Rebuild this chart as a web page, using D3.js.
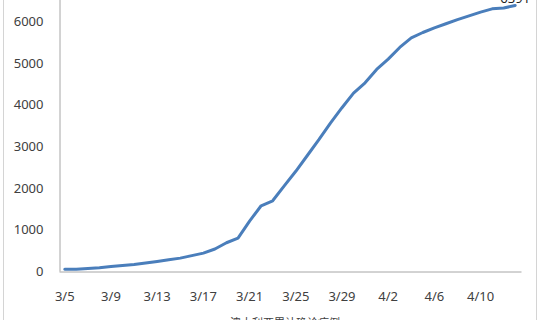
<!DOCTYPE html>
<html>
<head>
<meta charset="utf-8">
<script src="https://cdn.jsdelivr.net/npm/d3@7"></script>
<style>
  body { margin: 0; background: #fff; }
  svg { display: block; }
</style>
</head>
<body>
<div id="chart"></div>
<script>
// 每日累计确诊 3/5 - 4/13
var dates = ["3/5","3/6","3/7","3/8","3/9","3/10","3/11","3/12","3/13","3/14",
  "3/15","3/16","3/17","3/18","3/19","3/20","3/21","3/22","3/23","3/24",
  "3/25","3/26","3/27","3/28","3/29","3/30","3/31","4/1","4/2","4/3",
  "4/4","4/5","4/6","4/7","4/8","4/9","4/10","4/11","4/12","4/13"]
var cases = [40, 45, 60, 80, 110, 135, 155, 190, 230, 270,
  310, 370, 430, 530, 680, 790, 1200, 1570, 1690, 2050,
  2400, 2780, 3160, 3560, 3930, 4280, 4530, 4850, 5100, 5380,
  5610, 5740, 5850, 5950, 6050, 6140, 6230, 6310, 6330, 6391]
var yTicks = [0, 1000, 2000, 3000, 4000, 5000, 6000]
var legendText = "澳大利亚累计确诊病例"

var W = 540, H = 320
var svg = d3.select("#chart").append("svg")
  .attr("width", W)
  .attr("height", H)

// 外框
svg.append("rect")
  .attr("x", 3.5).attr("y", -5)
  .attr("width", 533).attr("height", H + 10)
  .attr("fill", "none")
  .attr("stroke", "#d4d4d4")
  .attr("stroke-width", 1)

var x = d3.scaleBand().domain(dates).range([59, 521])
var y = d3.scaleLinear().domain([0, 7000]).range([271, 271 - 7000 * 0.04155])

var font = "'Noto Sans', 'DejaVu Sans', sans-serif"

// y轴
var gy = svg.append("g")
  .attr("transform", "translate(59.5,0)")
  .call(d3.axisLeft(y).tickValues(yTicks).tickSize(0).tickPadding(16).tickFormat(d3.format("d")))
gy.select(".domain").attr("stroke", "#a6a6a6")
gy.selectAll("text")
  .style("font-family", font)
  .style("font-size", "13px")
  .attr("fill", "#404040")

// x轴
var gx = svg.append("g")
  .attr("transform", "translate(0,271.5)")
  .call(d3.axisBottom(x)
    .tickValues(dates.filter((d, i) => i % 4 == 0))
    .tickSize(0).tickPadding(20))
gx.select(".domain").attr("stroke", "#a6a6a6")
gx.selectAll("text")
  .style("font-family", font)
  .style("font-size", "13px")
  .attr("fill", "#404040")

// 折线
var line = d3.line()
  .x((d, i) => x(dates[i]) + x.bandwidth() / 2)
  .y(d => y(d))

svg.append("path")
  .datum(cases)
  .attr("d", line)
  .attr("fill", "none")
  .attr("stroke", "#4a7ebb")
  .attr("stroke-width", 3)
  .attr("stroke-linejoin", "round")
  .attr("stroke-linecap", "round")

// 末点标签
var last = cases.length - 1
svg.append("text")
  .attr("x", x(dates[last]) + x.bandwidth() / 2)
  .attr("y", y(cases[last]) - 2)
  .attr("text-anchor", "middle")
  .style("font-family", font)
  .style("font-size", "13px")
  .attr("fill", "#222")
  .text(cases[last])

// 图例（被裁切）
svg.append("text")
  .attr("x", 285)
  .attr("y", 327)
  .attr("text-anchor", "middle")
  .style("font-family", "'Noto Sans CJK SC', sans-serif")
  .style("font-size", "11px")
  .attr("fill", "#404040")
  .text(legendText)
</script>
</body>
</html>
